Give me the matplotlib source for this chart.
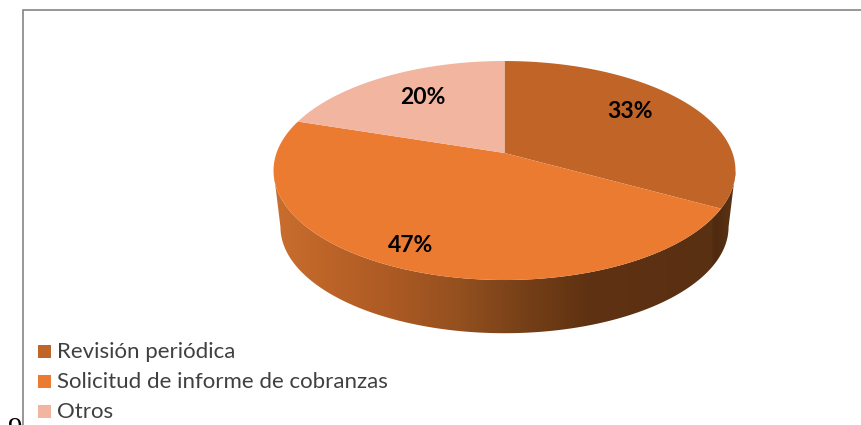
import numpy as np
import matplotlib
matplotlib.use('Agg')
import matplotlib.pyplot as plt
from matplotlib.patches import Polygon, Rectangle
from matplotlib.colors import LinearSegmentedColormap

categories = ['Revisión periódica', 'Solicitud de informe de cobranzas', 'Otros']
values = [33, 47, 20]
labels = ['33%', '47%', '20%']
colors = ['#C06427', '#EB7B31', '#F2B5A0']

# layout, in pixels of the 861x425 picture
cx, cy = 504.5, 153.0
rx, ry, k = 228.0, 106.7, 0.16
bottom_cy, bottom_scale = 210.0, 0.97
label_xy = [(630, 111), (411, 245), (423, 97)]
legend_y = [351, 381, 411]


def project(theta, r=1.0, y0=cy, scale=1.0):
    # theta clockwise from the top of the disc, perspective tilted away
    u = r * np.sin(theta)
    v = r * np.cos(theta)
    w = 1 + k * v
    return cx + scale * rx * u / w, y0 - scale * ry * v / w


fig = plt.figure(figsize=(8.61, 4.25), dpi=100)
ax = fig.add_axes([0, 0, 1, 1])

# side of the disc
front = np.linspace(np.arccos(-k), 2 * np.pi - np.arccos(-k), 200)
tx, ty = project(front)
bx, by = project(front[::-1], y0=bottom_cy, scale=bottom_scale)
side = Polygon(np.r_[np.c_[tx, ty], np.c_[bx, by]], closed=True, fc='none', ec='none')
ax.add_patch(side)
side_cmap = LinearSegmentedColormap.from_list('side', [
    (0.00, '#C96E2E'), (0.10, '#BE6529'), (0.25, '#AD5A24'), (0.40, '#94501F'),
    (0.55, '#743F17'), (0.68, '#5F3212'), (0.85, '#5C3012'), (0.95, '#593012'),
    (0.955, '#4E2A10'), (1.00, '#5E3313')])
grad = ax.imshow(np.linspace(0, 1, 256).reshape(1, -1), cmap=side_cmap, aspect='auto',
                 extent=(274, 736, 340, 150))
grad.set_clip_path(side)

# top of the disc
edges = np.cumsum([0] + values) / sum(values) * 2 * np.pi
for i in range(len(values)):
    t = np.linspace(edges[i], edges[i + 1], 120)
    x, y = project(t)
    ax.add_patch(Polygon(np.r_[[[cx, cy]], np.c_[x, y]], closed=True, fc=colors[i], ec='none'))
    ax.text(label_xy[i][0], label_xy[i][1], labels[i], ha='center', va='center',
            family='Lato', weight='bold', fontsize=16.5, color='black')

# legend
for i in range(len(categories)):
    ax.add_patch(Rectangle((38, legend_y[i] - 6.5), 13, 13, fc=colors[i], ec='none'))
    ax.text(57, legend_y[i] + 0.5, categories[i], ha='left', va='center',
            family='Lato', fontsize=16, color='#404040')

# frame
ax.plot([23, 23, 861], [425, 9.5, 9.5], color='#858585', lw=1.2, solid_joinstyle='miter')

# stray character cut by the lower edge
ax.text(15, 430, '9', ha='center', va='center', family='Liberation Serif', fontsize=21, color='black')

ax.set_xlim(0, 861)
ax.set_ylim(425, 0)
ax.axis('off')
fig.savefig('out.png', dpi=100)
